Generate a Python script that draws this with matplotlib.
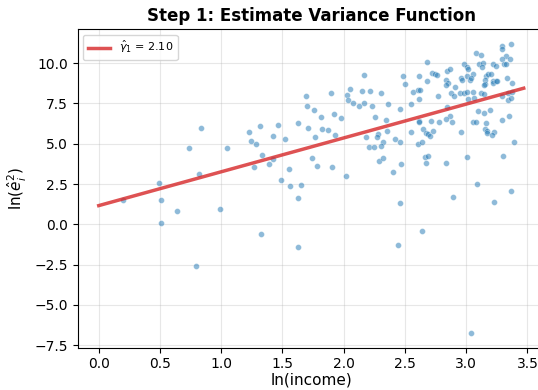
import numpy as np
import matplotlib
matplotlib.use("Agg")
import matplotlib.pyplot as plt

# --- Data: ln(income) vs ln(e_hat^2) ---
ln_income = [
    0.197, 0.49, 0.509, 0.509, 0.64, 0.736, 0.837, 0.821, 0.794, 0.993,
    1.051, 1.226, 1.240, 1.286, 1.319, 1.336, 1.267, 1.388, 1.423, 1.420,
    1.467, 1.519, 1.489, 1.552, 1.565, 1.650, 1.623, 1.322, 1.626, 1.623,
    1.691, 1.697, 1.705, 1.757, 1.738, 1.784, 1.812, 1.768, 1.825, 1.872,
    1.897, 1.918, 1.929, 1.902,
    1.978, 2.025, 2.049, 2.036, 2.077, 2.022, 2.129, 2.164, 2.151, 2.167,
    2.213, 2.235, 2.183, 2.252, 2.301, 2.361, 2.345, 2.356, 2.282, 2.274,
    2.317, 2.306, 2.208, 2.244, 2.290, 2.323, 2.402, 2.421, 2.463, 2.471,
    2.463, 2.487, 2.504, 2.463, 2.441, 2.550, 2.547, 2.569, 2.605, 2.627,
    2.613, 2.618, 2.684, 2.682, 2.720, 2.742, 2.766, 2.774, 2.616, 2.616,
    2.651, 2.671, 2.687, 2.706, 2.728, 2.714, 2.777, 2.610, 2.640, 2.660,
    2.692, 2.676, 2.640,
    2.844, 2.866, 2.839, 2.852, 2.839, 2.910, 2.880, 2.897, 2.959, 2.967,
    2.986, 3.003, 3.014, 3.008, 3.033, 3.052, 3.041, 2.953, 2.981, 3.011,
    3.019, 3.052, 3.066, 3.079, 3.120, 3.109, 3.134, 3.126, 3.164, 3.156,
    3.181, 3.202, 3.150, 3.145, 3.216, 3.246, 3.222, 3.222, 3.241, 3.254,
    3.123, 3.148, 3.290, 3.290, 3.326, 3.296, 3.364, 3.358, 3.309, 3.326,
    3.337, 3.375, 3.293, 3.339, 3.369, 3.342, 3.375, 3.096, 3.145, 3.192,
    3.055, 3.079, 3.164, 3.158, 3.169, 3.169, 3.224, 3.213, 3.290, 3.353,
    3.394, 2.962, 2.885, 2.871, 2.836, 2.844, 2.836, 3.003, 3.301, 3.088,
    2.893, 3.224, 3.369, 3.036,
]
ln_e2 = [
    1.49, 2.54, 1.49, 0.10, 0.81, 4.73, 5.97, 3.12, -2.58, 0.97,
    4.73, 5.74, 5.17, 4.96, 6.10, 4.28, 3.55, 3.72, 4.07, 5.45,
    6.16, 5.27, 2.77, 3.41, 2.38, 2.42, 1.61, -0.58, -1.40, 6.30,
    7.95, 7.36, 5.99, 7.11, 4.13, 3.60, 6.67, 5.43, 5.93, 5.85,
    8.14, 6.84, 5.54, 3.53,
    6.61, 8.04, 8.37, 7.71, 7.54, 3.00, 7.33, 9.24, 8.26, 7.54,
    8.26, 7.33, 5.41, 6.67, 8.12, 7.46, 6.47, 5.81, 5.60, 5.43,
    5.10, 4.88, 4.77, 4.79, 3.93, 4.09, 3.22, 5.29, 5.12, 3.76,
    7.17, 9.21, 8.68, 1.34, -1.28, 7.46, 5.76, 8.20, 8.31, 8.33,
    9.19, 7.79, 10.08, 8.88, 9.40, 9.32, 9.24, 7.95, 6.43, 6.32,
    5.89, 5.68, 5.58, 5.50, 5.81, 6.43, 6.32, 5.00, 5.08, 4.19,
    4.24, 3.82, -0.43,
    9.52, 9.61, 8.95, 8.78, 8.64, 8.53, 8.12, 7.98, 9.07, 8.95,
    9.92, 9.77, 9.61, 9.19, 8.95, 9.30, 9.09, 8.18, 8.12, 8.20,
    7.77, 8.20, 7.81, 10.64, 10.52, 9.98, 10.02, 9.77, 9.19, 8.95,
    9.30, 9.36, 8.70, 8.62, 9.98, 9.83, 8.91, 8.74, 8.91, 8.91,
    8.12, 8.08, 11.07, 10.87, 10.43, 10.29, 11.22, 10.25, 9.94, 9.94,
    9.09, 8.76, 7.95, 7.71, 7.83, 8.18, 8.22, 7.05, 6.92, 7.09,
    6.36, 6.36, 6.26, 5.93, 5.81, 5.68, 5.74, 5.52, 6.49, 6.71,
    5.12, 5.74, 6.36, 6.71, 6.51, 7.29, 3.78, 4.19, 4.26, 2.50,
    1.67, 1.40, 2.07, -6.76,
]

# fitted variance function
gamma0 = 1.16
gamma1 = 2.10
line_x = [0.0, 3.47]

# --- Plotting ---
fig = plt.figure(figsize=(5.38, 3.9), dpi=100)
ax = fig.add_axes([0.1444, 0.1085, 0.87, 0.817])

ax.scatter(ln_income, ln_e2, s=18, color='#1f77b4', alpha=0.5,
           edgecolor='white', linewidth=0.4, zorder=2)
lx = np.array(line_x)
ax.plot(lx, gamma0 + gamma1 * lx, color='#d62728', alpha=0.8, linewidth=2.5,
        label=r'$\hat{\gamma}_1$ = %.2f' % gamma1, zorder=3)

ax.set_title('Step 1: Estimate Variance Function', fontsize=12, fontweight='bold')
ax.set_xlabel('ln(income)', fontsize=11, labelpad=1)
ax.set_ylabel(r'ln($\hat{e}_i^2$)', fontsize=11)
ax.tick_params(labelsize=10)
ax.set_xlim(-0.172, 3.65)
ax.grid(True, alpha=0.3)
ax.legend(loc='upper left', fontsize=8)

fig.savefig('out.png', dpi=100)
